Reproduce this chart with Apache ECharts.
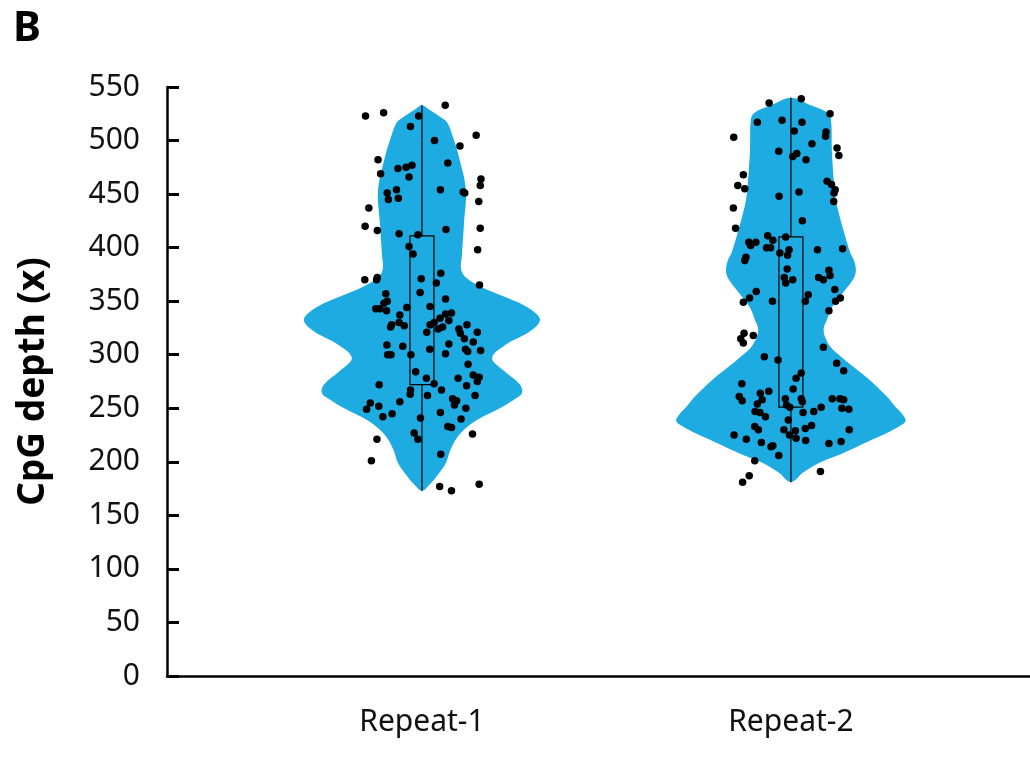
<!DOCTYPE html>
<html>
<head>
<meta charset="utf-8">
<script src="https://cdn.jsdelivr.net/npm/echarts@6/dist/echarts.min.js"></script>
<style>html,body{margin:0;padding:0;background:#fff}#c{width:1030px;height:757px}</style>
</head>
<body>
<div id="c"></div>
<script>
const categories = ['Repeat-1', 'Repeat-2'];
const yMin = 0, yMax = 550, yStep = 50;

// jittered points: [offset from category centre (x units), CpG depth]
const points1 = [[0.063,533],[-0.153,523],[-0.104,526],[-0.009,523],[-0.031,513],[0.147,505],[0.034,500],[0.103,495],[-0.119,482],[0.070,479],[-0.065,474],[-0.043,475],[-0.027,477],[-0.112,469],[-0.035,466],[0.160,464],[0.158,458],[-0.069,454],[-0.094,451],[0.050,454],[0.112,452],[0.116,451],[-0.091,445],[-0.064,446],[0.154,443],[-0.144,437],[-0.154,420],[-0.121,416],[-0.062,413],[-0.011,412],[0.065,417],[0.158,418],[-0.035,401],[-0.024,394],[0.151,398],[-0.155,370],[-0.121,372],[-0.123,370],[-0.002,371],[0.051,376],[0.039,367],[0.156,365],[-0.005,358],[-0.098,357],[0.064,352],[-0.094,350],[-0.103,348],[-0.125,343],[-0.114,343],[-0.096,341],[-0.041,344],[0.022,345],[-0.060,337],[0.064,338],[0.080,339],[0.049,334],[0.073,332],[-0.082,328],[-0.085,326],[-0.062,330],[-0.048,327],[0.022,328],[0.033,330],[0.056,326],[0.044,324],[0.122,328],[0.100,324],[0.104,320],[0.115,315],[0.150,321],[0.013,321],[0.139,312],[-0.095,309],[-0.052,308],[0.073,310],[0.118,305],[0.124,303],[0.159,304],[0.021,305],[0.064,301],[-0.093,300],[-0.084,300],[-0.030,300],[0.125,291],[-0.017,284],[0.012,278],[0.098,278],[0.139,281],[0.155,279],[0.150,275],[0.121,271],[0.033,273],[-0.116,272],[0.053,267],[-0.031,267],[-0.032,263],[0.015,262],[0.144,262],[0.083,259],[0.094,257],[0.088,253],[-0.140,255],[-0.117,252],[-0.150,249],[-0.060,256],[0.119,250],[0.050,246],[-0.081,245],[-0.106,242],[-0.004,241],[0.106,240],[0.070,233],[0.080,232],[-0.021,227],[-0.011,221],[0.137,226],[-0.122,221],[0.051,207],[-0.137,201],[0.048,177],[0.080,173],[0.155,179]];
const points2 = [[0.028,539],[-0.059,535],[0.106,525],[-0.091,517],[-0.024,519],[0.030,517],[0.009,509],[0.095,508],[0.094,504],[-0.155,503],[0.057,497],[0.125,493],[0.130,486],[-0.033,490],[0.016,488],[0.005,485],[0.041,482],[-0.129,468],[-0.144,458],[-0.125,455],[0.098,462],[0.110,459],[0.120,454],[0.117,451],[0.116,443],[-0.032,448],[0.022,452],[-0.156,437],[0.031,425],[-0.150,418],[-0.063,411],[-0.014,410],[-0.114,405],[-0.095,405],[-0.109,402],[-0.049,407],[-0.066,400],[-0.055,400],[-0.005,398],[-0.030,395],[-0.009,393],[0.072,398],[0.140,399],[-0.122,391],[-0.125,388],[-0.010,380],[0.103,379],[0.106,374],[0.075,372],[0.088,370],[-0.018,372],[0.005,370],[-0.014,367],[0.119,361],[-0.094,359],[-0.112,353],[-0.129,349],[-0.050,350],[0.047,356],[0.039,350],[0.134,353],[0.121,350],[0.103,341],[-0.127,320],[-0.136,315],[-0.129,311],[-0.102,318],[0.088,307],[-0.072,298],[-0.035,295],[0.124,292],[0.143,285],[0.028,283],[0.014,278],[-0.133,273],[0.006,268],[-0.060,266],[-0.083,264],[-0.140,261],[-0.132,257],[-0.078,258],[-0.091,254],[-0.015,259],[0.028,259],[0.031,256],[0.112,259],[0.133,259],[0.143,258],[-0.012,253],[-0.003,251],[0.082,251],[0.138,250],[0.157,249],[-0.097,247],[-0.084,246],[-0.069,242],[0.033,246],[0.062,247],[-0.007,239],[-0.098,233],[-0.088,230],[-0.019,230],[0.012,229],[0.039,231],[0.056,234],[0.158,230],[-0.004,225],[0.014,222],[-0.154,225],[-0.121,221],[-0.080,218],[0.040,220],[0.103,217],[0.136,219],[-0.054,214],[-0.049,215],[-0.033,206],[-0.098,201],[-0.113,187],[-0.131,181],[0.080,191]];

// violin outlines: [CpG depth, half width (x units)]
const violin1 = [[173,0],[180,0.024],[187,0.041],[199,0.065],[210,0.076],[221,0.092],[230,0.114],[239,0.149],[250,0.211],[258,0.249],[264,0.271],[272,0.266],[285,0.222],[297,0.190],[310,0.230],[322,0.293],[333,0.320],[345,0.282],[355,0.217],[364,0.157],[372,0.119],[380,0.106],[392,0.108],[423,0.114],[454,0.119],[485,0.100],[500,0.087],[517,0.068],[523,0.046],[529,0.019],[533,0]];
const violin2 = [[181,0],[190,0.033],[199,0.076],[208,0.141],[214,0.179],[221,0.222],[227,0.260],[233,0.293],[238,0.311],[245,0.301],[252,0.282],[261,0.260],[277,0.211],[292,0.157],[300,0.130],[307,0.108],[317,0.092],[325,0.089],[333,0.098],[342,0.108],[351,0.125],[360,0.146],[370,0.168],[378,0.176],[388,0.171],[396,0.160],[412,0.146],[428,0.133],[444,0.122],[459,0.117],[490,0.111],[521,0.108],[527,0.095],[533,0.054],[540,0]];

// box: [q1, q3], whisker: [min, max]
const boxes = [[272, 411], [251, 410]];
const whiskers = [[173, 533], [181, 540]];

const violins = [violin1, violin2];
const FONT = 'Noto Sans';
const BLUE = '#1DABE2';
const boxHalf = 0.0325;

const chart = echarts.init(document.getElementById('c'), null, {renderer: 'canvas'});
chart.setOption({
  animation: false,
  backgroundColor: '#fff',
  title: {text: 'B', left: 8, top: 3, textStyle: {fontFamily: FONT, fontSize: 42, fontWeight: 'bold', color: '#000'}},
  grid: {left: 167, right: 0, top: 87, bottom: 81, outerBoundsMode: 'none'},
  xAxis: {
    type: 'value', min: 0.309, max: 2.648,
    axisLine: {lineStyle: {color: '#000', width: 2.5}},
    axisTick: {show: false},
    splitLine: {show: false},
    axisLabel: {
      customValues: [1, 2],
      formatter: v => categories[Math.round(v) - 1] || '',
      fontFamily: FONT, fontSize: 30, color: '#111', margin: 31
    }
  },
  yAxis: {
    type: 'value', min: yMin, max: yMax, interval: yStep,
    name: 'CpG depth (x)', nameLocation: 'middle', nameGap: 115, nameRotate: 90,
    nameTextStyle: {fontFamily: FONT, fontSize: 37, fontWeight: 'bold', color: '#000'},
    axisLine: {show: true, lineStyle: {color: '#000', width: 2.5}},
    axisTick: {show: true, inside: true, length: 12, lineStyle: {color: '#000', width: 3}},
    splitLine: {show: false},
    axisLabel: {fontFamily: FONT, fontSize: 30, color: '#111', margin: 27}
  },
  series: [
    {
      type: 'custom', z: 1,
      data: categories.map((c, i) => [i + 1]),
      renderItem: function (params, api) {
        const c = api.value(0);
        const prof = violins[params.dataIndex];
        const right = prof.map(p => api.coord([c + p[1], p[0]]));
        const left = prof.slice(1, -1).reverse().map(p => api.coord([c - p[1], p[0]]));
        return {type: 'polygon', shape: {points: right.concat(left), smooth: 0.35}, style: {fill: BLUE, stroke: null}};
      },
      silent: true
    },
    {
      type: 'custom', z: 3,
      data: categories.map((c, i) => [i + 1]),
      renderItem: function (params, api) {
        const c = api.value(0);
        const b = boxes[params.dataIndex], w = whiskers[params.dataIndex];
        const top = api.coord([c, w[1]]), bot = api.coord([c, w[0]]);
        const p1 = api.coord([c - boxHalf, b[1]]), p2 = api.coord([c + boxHalf, b[0]]);
        return {type: 'group', children: [
          {type: 'line', shape: {x1: top[0], y1: top[1], x2: bot[0], y2: bot[1]}, style: {stroke: '#000', lineWidth: 1.2}},
          {type: 'rect', shape: {x: p1[0], y: p1[1], width: p2[0] - p1[0], height: p2[1] - p1[1]}, style: {fill: BLUE, stroke: '#000', lineWidth: 1.2}}
        ]};
      },
      silent: true
    },
    {
      type: 'scatter', z: 4, symbolSize: 7.5,
      itemStyle: {color: '#000', opacity: 1},
      data: points1.map(p => [1 + p[0], p[1]]).concat(points2.map(p => [2 + p[0], p[1]]))
    }
  ]
});
</script>
</body>
</html>
